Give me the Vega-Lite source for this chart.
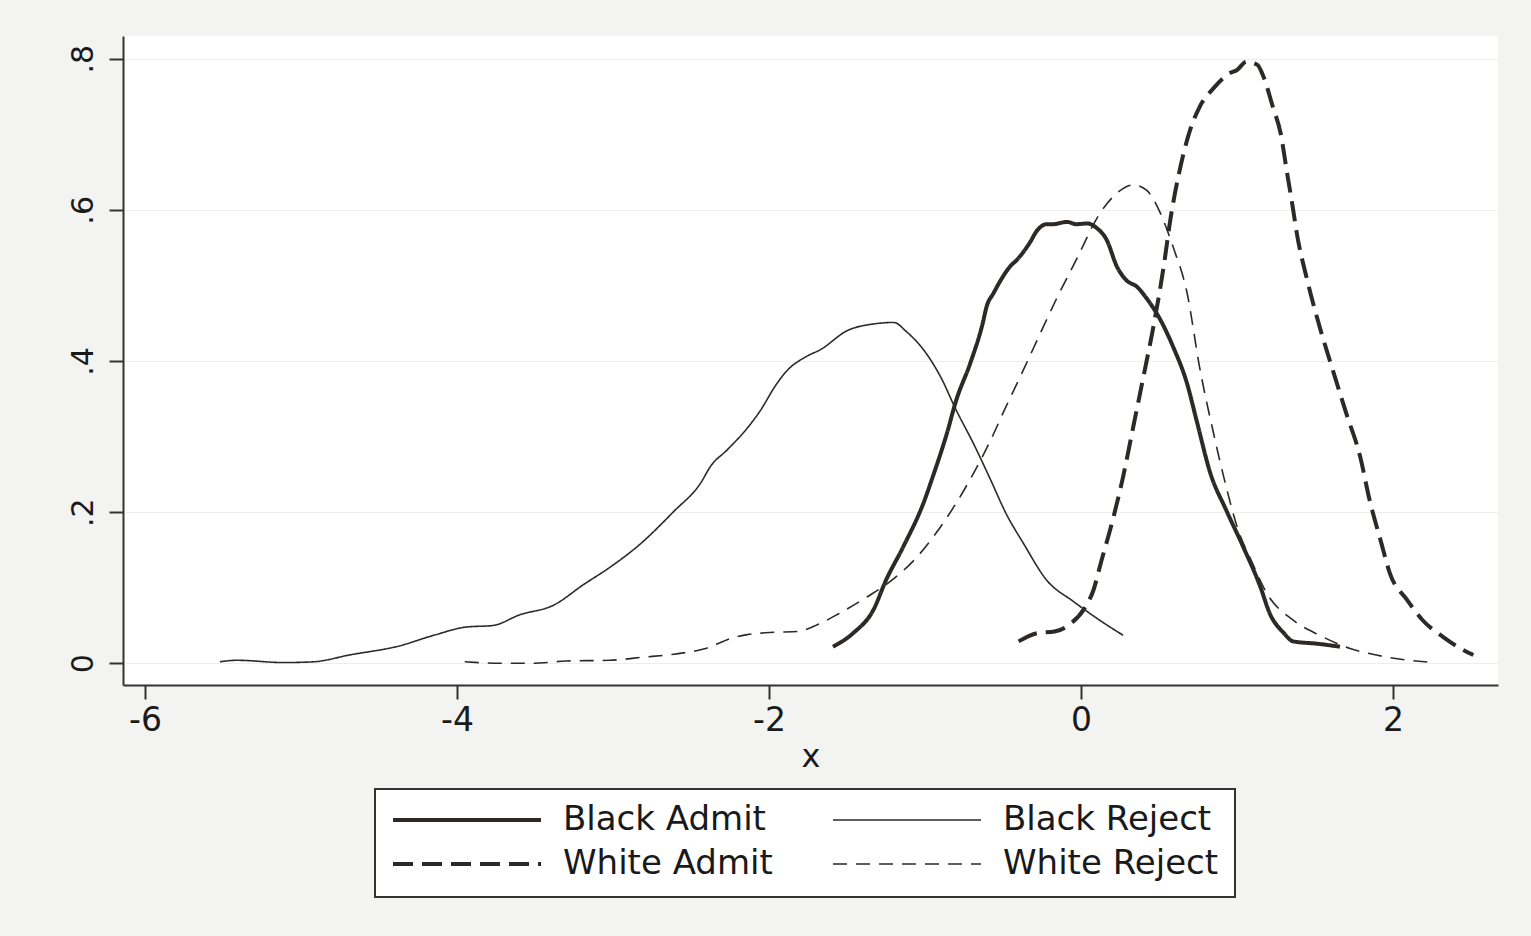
{
  "$schema": "https://vega.github.io/schema/vega-lite/v6.json",
  "width": 1375,
  "height": 649,
  "autosize": {"type": "none"},
  "padding": {"left": 123, "top": 36, "right": 33, "bottom": 251},
  "background": "#f3f4f2",
  "view": {"fill": "white", "stroke": null},
  "config": {"font": "DejaVu Sans"},
  "data": {
    "values": [
      {"series": "Black Reject", "x": -5.52, "y": 0.002},
      {"series": "Black Reject", "x": -5.41, "y": 0.004},
      {"series": "Black Reject", "x": -5.11, "y": 0.001},
      {"series": "Black Reject", "x": -4.92, "y": 0.002},
      {"series": "Black Reject", "x": -4.69, "y": 0.011},
      {"series": "Black Reject", "x": -4.37, "y": 0.023},
      {"series": "Black Reject", "x": -4.15, "y": 0.037},
      {"series": "Black Reject", "x": -3.94, "y": 0.048},
      {"series": "Black Reject", "x": -3.77, "y": 0.050},
      {"series": "Black Reject", "x": -3.60, "y": 0.064},
      {"series": "Black Reject", "x": -3.38, "y": 0.077},
      {"series": "Black Reject", "x": -3.19, "y": 0.104},
      {"series": "Black Reject", "x": -3.02, "y": 0.127},
      {"series": "Black Reject", "x": -2.83, "y": 0.157},
      {"series": "Black Reject", "x": -2.61, "y": 0.201},
      {"series": "Black Reject", "x": -2.44, "y": 0.238},
      {"series": "Black Reject", "x": -2.37, "y": 0.262},
      {"series": "Black Reject", "x": -2.27, "y": 0.282},
      {"series": "Black Reject", "x": -2.14, "y": 0.311},
      {"series": "Black Reject", "x": -2.06, "y": 0.333},
      {"series": "Black Reject", "x": -1.95, "y": 0.370},
      {"series": "Black Reject", "x": -1.89, "y": 0.386},
      {"series": "Black Reject", "x": -1.76, "y": 0.406},
      {"series": "Black Reject", "x": -1.67, "y": 0.415},
      {"series": "Black Reject", "x": -1.50, "y": 0.440},
      {"series": "Black Reject", "x": -1.33, "y": 0.449},
      {"series": "Black Reject", "x": -1.20, "y": 0.451},
      {"series": "Black Reject", "x": -1.12, "y": 0.439},
      {"series": "Black Reject", "x": -1.01, "y": 0.415},
      {"series": "Black Reject", "x": -0.90, "y": 0.379},
      {"series": "Black Reject", "x": -0.80, "y": 0.335},
      {"series": "Black Reject", "x": -0.69, "y": 0.291},
      {"series": "Black Reject", "x": -0.58, "y": 0.243},
      {"series": "Black Reject", "x": -0.48, "y": 0.198},
      {"series": "Black Reject", "x": -0.37, "y": 0.159},
      {"series": "Black Reject", "x": -0.22, "y": 0.110},
      {"series": "Black Reject", "x": -0.05, "y": 0.082},
      {"series": "Black Reject", "x": 0.12, "y": 0.057},
      {"series": "Black Reject", "x": 0.27, "y": 0.037},

      {"series": "Black Admit", "x": -1.59, "y": 0.022},
      {"series": "Black Admit", "x": -1.46, "y": 0.040},
      {"series": "Black Admit", "x": -1.33, "y": 0.071},
      {"series": "Black Admit", "x": -1.25, "y": 0.110},
      {"series": "Black Admit", "x": -1.14, "y": 0.154},
      {"series": "Black Admit", "x": -1.01, "y": 0.212},
      {"series": "Black Admit", "x": -0.95, "y": 0.247},
      {"series": "Black Admit", "x": -0.86, "y": 0.304},
      {"series": "Black Admit", "x": -0.80, "y": 0.348},
      {"series": "Black Admit", "x": -0.71, "y": 0.397},
      {"series": "Black Admit", "x": -0.63, "y": 0.450},
      {"series": "Black Admit", "x": -0.605, "y": 0.472},
      {"series": "Black Admit", "x": -0.56, "y": 0.490},
      {"series": "Black Admit", "x": -0.52, "y": 0.505},
      {"series": "Black Admit", "x": -0.455, "y": 0.525},
      {"series": "Black Admit", "x": -0.41, "y": 0.534},
      {"series": "Black Admit", "x": -0.33, "y": 0.556},
      {"series": "Black Admit", "x": -0.28, "y": 0.573},
      {"series": "Black Admit", "x": -0.22, "y": 0.581},
      {"series": "Black Admit", "x": -0.18, "y": 0.581},
      {"series": "Black Admit", "x": -0.09, "y": 0.584},
      {"series": "Black Admit", "x": -0.03, "y": 0.581},
      {"series": "Black Admit", "x": 0.04, "y": 0.582},
      {"series": "Black Admit", "x": 0.10, "y": 0.576},
      {"series": "Black Admit", "x": 0.165, "y": 0.560},
      {"series": "Black Admit", "x": 0.23, "y": 0.525},
      {"series": "Black Admit", "x": 0.29, "y": 0.507},
      {"series": "Black Admit", "x": 0.36, "y": 0.498},
      {"series": "Black Admit", "x": 0.42, "y": 0.483},
      {"series": "Black Admit", "x": 0.51, "y": 0.454},
      {"series": "Black Admit", "x": 0.59, "y": 0.419},
      {"series": "Black Admit", "x": 0.68, "y": 0.370},
      {"series": "Black Admit", "x": 0.74, "y": 0.322},
      {"series": "Black Admit", "x": 0.83, "y": 0.251},
      {"series": "Black Admit", "x": 0.93, "y": 0.203},
      {"series": "Black Admit", "x": 1.04, "y": 0.154},
      {"series": "Black Admit", "x": 1.15, "y": 0.101},
      {"series": "Black Admit", "x": 1.21, "y": 0.066},
      {"series": "Black Admit", "x": 1.30, "y": 0.040},
      {"series": "Black Admit", "x": 1.36, "y": 0.029},
      {"series": "Black Admit", "x": 1.51, "y": 0.026},
      {"series": "Black Admit", "x": 1.66, "y": 0.022},

      {"series": "White Reject", "x": -3.95, "y": 0.002},
      {"series": "White Reject", "x": -3.72, "y": 0.000},
      {"series": "White Reject", "x": -3.51, "y": 0.000},
      {"series": "White Reject", "x": -3.30, "y": 0.003},
      {"series": "White Reject", "x": -3.02, "y": 0.004},
      {"series": "White Reject", "x": -2.81, "y": 0.008},
      {"series": "White Reject", "x": -2.61, "y": 0.012},
      {"series": "White Reject", "x": -2.40, "y": 0.020},
      {"series": "White Reject", "x": -2.23, "y": 0.034},
      {"series": "White Reject", "x": -2.14, "y": 0.038},
      {"series": "White Reject", "x": -1.97, "y": 0.041},
      {"series": "White Reject", "x": -1.82, "y": 0.042},
      {"series": "White Reject", "x": -1.69, "y": 0.051},
      {"series": "White Reject", "x": -1.55, "y": 0.066},
      {"series": "White Reject", "x": -1.37, "y": 0.088},
      {"series": "White Reject", "x": -1.20, "y": 0.112},
      {"series": "White Reject", "x": -1.05, "y": 0.141},
      {"series": "White Reject", "x": -0.93, "y": 0.172},
      {"series": "White Reject", "x": -0.80, "y": 0.212},
      {"series": "White Reject", "x": -0.69, "y": 0.251},
      {"series": "White Reject", "x": -0.58, "y": 0.295},
      {"series": "White Reject", "x": -0.48, "y": 0.340},
      {"series": "White Reject", "x": -0.39, "y": 0.379},
      {"series": "White Reject", "x": -0.26, "y": 0.437},
      {"series": "White Reject", "x": -0.16, "y": 0.481},
      {"series": "White Reject", "x": -0.03, "y": 0.534},
      {"series": "White Reject", "x": 0.12, "y": 0.595},
      {"series": "White Reject", "x": 0.23, "y": 0.622},
      {"series": "White Reject", "x": 0.335, "y": 0.633},
      {"series": "White Reject", "x": 0.42, "y": 0.626},
      {"series": "White Reject", "x": 0.51, "y": 0.595},
      {"series": "White Reject", "x": 0.59, "y": 0.551},
      {"series": "White Reject", "x": 0.68, "y": 0.490},
      {"series": "White Reject", "x": 0.76, "y": 0.392},
      {"series": "White Reject", "x": 0.85, "y": 0.304},
      {"series": "White Reject", "x": 0.93, "y": 0.234},
      {"series": "White Reject", "x": 1.00, "y": 0.181},
      {"series": "White Reject", "x": 1.10, "y": 0.132},
      {"series": "White Reject", "x": 1.19, "y": 0.093},
      {"series": "White Reject", "x": 1.36, "y": 0.057},
      {"series": "White Reject", "x": 1.53, "y": 0.037},
      {"series": "White Reject", "x": 1.72, "y": 0.020},
      {"series": "White Reject", "x": 1.94, "y": 0.009},
      {"series": "White Reject", "x": 2.26, "y": 0.001},

      {"series": "White Admit", "x": -0.40, "y": 0.029},
      {"series": "White Admit", "x": -0.28, "y": 0.040},
      {"series": "White Admit", "x": -0.17, "y": 0.042},
      {"series": "White Admit", "x": -0.07, "y": 0.052},
      {"series": "White Admit", "x": 0.02, "y": 0.072},
      {"series": "White Admit", "x": 0.08, "y": 0.097},
      {"series": "White Admit", "x": 0.13, "y": 0.135},
      {"series": "White Admit", "x": 0.20, "y": 0.187},
      {"series": "White Admit", "x": 0.27, "y": 0.247},
      {"series": "White Admit", "x": 0.335, "y": 0.313},
      {"series": "White Admit", "x": 0.40, "y": 0.379},
      {"series": "White Admit", "x": 0.46, "y": 0.441},
      {"series": "White Admit", "x": 0.53, "y": 0.525},
      {"series": "White Admit", "x": 0.575, "y": 0.590},
      {"series": "White Admit", "x": 0.63, "y": 0.650},
      {"series": "White Admit", "x": 0.70, "y": 0.706},
      {"series": "White Admit", "x": 0.76, "y": 0.736},
      {"series": "White Admit", "x": 0.85, "y": 0.761},
      {"series": "White Admit", "x": 0.955, "y": 0.781},
      {"series": "White Admit", "x": 1.00, "y": 0.785},
      {"series": "White Admit", "x": 1.06, "y": 0.796},
      {"series": "White Admit", "x": 1.13, "y": 0.792},
      {"series": "White Admit", "x": 1.17, "y": 0.776},
      {"series": "White Admit", "x": 1.23, "y": 0.736},
      {"series": "White Admit", "x": 1.28, "y": 0.701},
      {"series": "White Admit", "x": 1.32, "y": 0.650},
      {"series": "White Admit", "x": 1.36, "y": 0.600},
      {"series": "White Admit", "x": 1.38, "y": 0.573},
      {"series": "White Admit", "x": 1.45, "y": 0.507},
      {"series": "White Admit", "x": 1.53, "y": 0.445},
      {"series": "White Admit", "x": 1.62, "y": 0.384},
      {"series": "White Admit", "x": 1.70, "y": 0.331},
      {"series": "White Admit", "x": 1.79, "y": 0.273},
      {"series": "White Admit", "x": 1.85, "y": 0.216},
      {"series": "White Admit", "x": 1.92, "y": 0.163},
      {"series": "White Admit", "x": 1.98, "y": 0.119},
      {"series": "White Admit", "x": 2.09, "y": 0.084},
      {"series": "White Admit", "x": 2.19, "y": 0.057},
      {"series": "White Admit", "x": 2.32, "y": 0.035},
      {"series": "White Admit", "x": 2.43, "y": 0.020},
      {"series": "White Admit", "x": 2.515, "y": 0.011}
    ]
  },
  "mark": {"type": "line", "interpolate": "monotone", "color": "#2d2926"},
  "encoding": {
    "x": {
      "field": "x",
      "type": "quantitative",
      "scale": {"domain": [-6.141, 2.673], "nice": false, "zero": false},
      "axis": {
        "values": [-6, -4, -2, 0, 2],
        "grid": false,
        "domainColor": "#333333",
        "domainWidth": 2,
        "tickColor": "#333333",
        "tickWidth": 2,
        "tickSize": 14,
        "labelFontSize": 33,
        "labelColor": "#1a1a1a",
        "labelPadding": 5,
        "labelFlush": false,
        "labelOverlap": false,
        "labelExpr": "datum.value < 0 ? '-' + (-datum.value) : '' + datum.value",
        "title": "x",
        "titleFontSize": 32,
        "titleFontWeight": "normal",
        "titleColor": "#1a1a1a",
        "titlePadding": 4
      }
    },
    "y": {
      "field": "y",
      "type": "quantitative",
      "scale": {"domain": [-0.0287, 0.830], "nice": false, "zero": false},
      "axis": {
        "values": [0, 0.2, 0.4, 0.6, 0.8],
        "grid": true,
        "gridColor": "#eeeeee",
        "gridWidth": 1,
        "domainColor": "#333333",
        "domainWidth": 2,
        "tickColor": "#333333",
        "tickWidth": 2,
        "tickSize": 14,
        "labelFontSize": 30,
        "labelColor": "#1a1a1a",
        "labelAngle": 270,
        "labelAlign": "center",
        "labelBaseline": "bottom",
        "labelPadding": 11,
        "labelFlush": false,
        "labelOverlap": false,
        "labelExpr": "datum.value == 0 ? '0' : replace(format(datum.value, '.1f'), '0.', '.')",
        "title": null
      }
    },
    "strokeDash": {
      "field": "series",
      "type": "nominal",
      "scale": {
        "domain": ["Black Admit", "White Admit", "Black Reject", "White Reject"],
        "range": [[1, 0], [20, 9], [1, 0], [14, 9]]
      },
      "legend": {
        "title": null,
        "orient": "none",
        "legendX": 252,
        "legendY": 753,
        "columns": 2,
        "symbolType": "stroke",
        "symbolSize": 21904,
        "symbolStrokeColor": "#2d2926",
        "clipHeight": 30,
        "labelFontSize": 34,
        "labelFont": "DejaVu Sans",
        "labelColor": "#1a1a1a",
        "labelLimit": 400,
        "labelOffset": 20,
        "columnPadding": 58,
        "rowPadding": 10,
        "padding": 16,
        "fillColor": "white",
        "strokeColor": "#333333",
        "encode": {"legend": {"update": {"strokeWidth": {"value": 2}}}}
      }
    },
    "strokeWidth": {
      "field": "series",
      "type": "nominal",
      "scale": {
        "type": "ordinal",
        "domain": ["Black Admit", "White Admit", "Black Reject", "White Reject"],
        "range": [4, 4, 1.6, 1.6]
      },
      "legend": {
        "title": null,
        "orient": "none",
        "legendX": 252,
        "legendY": 753,
        "columns": 2,
        "symbolType": "stroke",
        "symbolSize": 21904,
        "symbolStrokeColor": "#2d2926",
        "clipHeight": 30,
        "labelFontSize": 34,
        "labelFont": "DejaVu Sans",
        "labelColor": "#1a1a1a",
        "labelLimit": 400,
        "labelOffset": 20,
        "columnPadding": 58,
        "rowPadding": 10,
        "padding": 16,
        "fillColor": "white",
        "strokeColor": "#333333",
        "encode": {"legend": {"update": {"strokeWidth": {"value": 2}}}}
      }
    }
  }
}
